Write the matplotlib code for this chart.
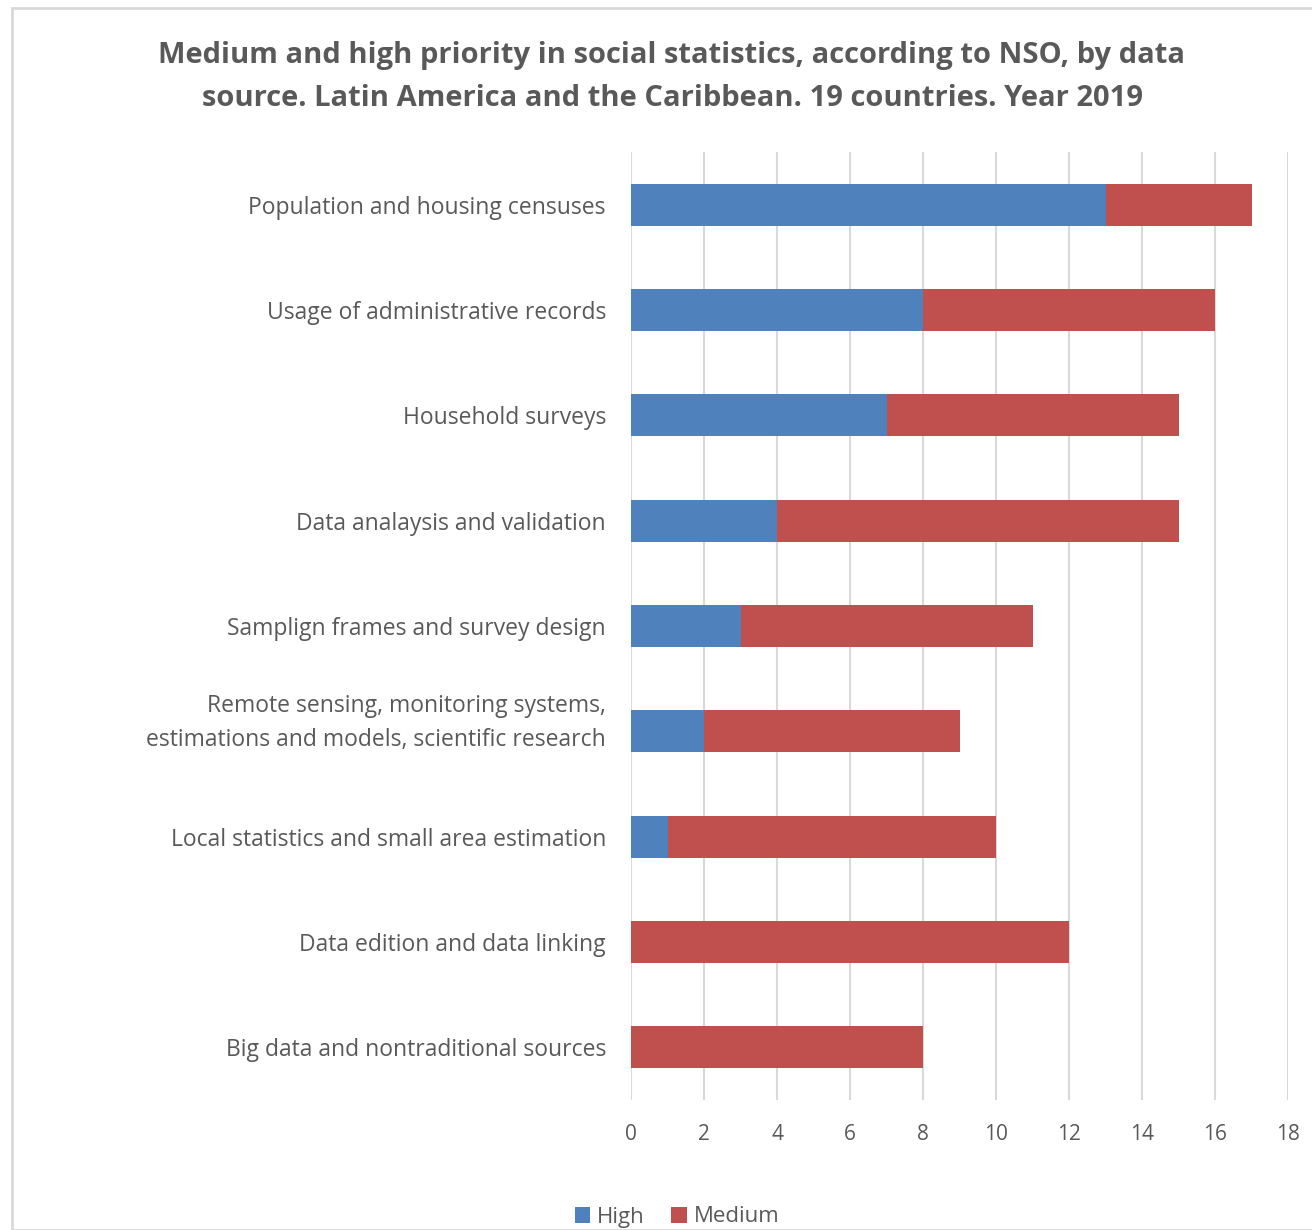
import numpy as np
import matplotlib
matplotlib.use("Agg")
import matplotlib.pyplot as plt
import matplotlib.transforms as mtransforms
from matplotlib.patches import Rectangle

categories = ["Population and housing censuses",
              "Usage of administrative records",
              "Household surveys",
              "Data analaysis and validation",
              "Samplign frames and survey design",
              "Remote sensing, monitoring systems,\nestimations and models, scientific research",
              "Local statistics and small area estimation",
              "Data edition and data linking",
              "Big data and nontraditional sources"]
high = [13, 8, 7, 4, 3, 2, 1, 0, 0]
medium = [4, 8, 8, 11, 8, 7, 9, 12, 8]

plt.rcParams['font.family'] = ['Open Sans', 'DejaVu Sans']
grey = '#595959'

fig = plt.figure(figsize=(13.12, 12.30), dpi=100)
fig.patches.append(Rectangle((12/1312, 0), 1.2, 1 - 8/1230, transform=fig.transFigure,
                             fill=False, edgecolor='#d9d9d9', linewidth=2))

ax = fig.add_axes([631/1312, 1 - 1100/1230, (1288 - 631)/1312, (1100 - 152)/1230])
y = np.arange(len(categories))
ax.barh(y, high, height=0.4, color='#4f81bd', label='High', zorder=3)
ax.barh(y, medium, left=high, height=0.4, color='#c0504d', label='Medium', zorder=3)

ax.set_ylim(len(categories) - 0.5, -0.5)
ax.set_xlim(0, 18)
ax.set_xticks(range(0, 19, 2))
ax.set_yticks(y)
ax.set_yticklabels(categories, fontsize=16.5, color=grey, linespacing=1.55)
ax.tick_params(axis='x', labelsize=15, labelcolor=grey, length=0, pad=17.5)
ax.tick_params(axis='y', length=0, pad=18)
for lab in ax.get_yticklabels():
    lab.set_horizontalalignment('right')
    if '\n' in lab.get_text():
        # the two-line label sits a bit higher in the original
        lab.set_transform(lab.get_transform() +
                          mtransforms.ScaledTranslation(0, 16/100, fig.dpi_scale_trans))
ax.grid(axis='x', color='#d9d9d9', linewidth=1.5, zorder=0)
for s in ax.spines.values():
    s.set_visible(False)

fig.text(672/1312, 1 - 77/1230,
         "Medium and high priority in social statistics, according to NSO, by data\n"
         "source. Latin America and the Caribbean. 19 countries. Year 2019",
         ha='center', va='center', fontsize=21, fontweight='bold', color=grey, linespacing=1.6)

fig.legend(loc='center', bbox_to_anchor=(677/1312, 1 - 1217/1230), ncol=2, frameon=False,
           fontsize=16, labelcolor=grey, handlelength=0.7, handleheight=0.7,
           handletextpad=0.3, columnspacing=1.2)

fig.savefig('out.png', dpi=100)
